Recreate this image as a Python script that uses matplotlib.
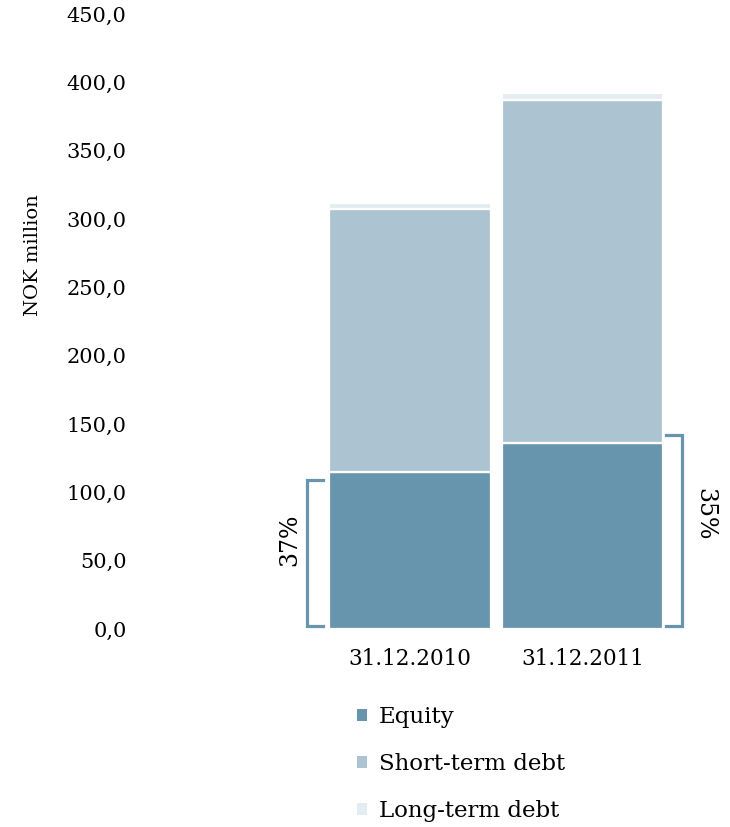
import matplotlib
matplotlib.use("Agg")
import matplotlib.pyplot as plt
from matplotlib.patches import Patch

plt.rcParams.update({'font.family': 'DejaVu Serif', 'font.size': 15})

# Balance sheet composition, NOK million
dates = ['31.12.2010', '31.12.2011']
equity = [115.0, 136.0]
short_term_debt = [192.0, 251.0]
long_term_debt = [5.0, 5.0]
equity_share = ['37%', '35%']
y_ticks = [0, 50, 100, 150, 200, 250, 300, 350, 400, 450]
series_names = ['Equity', 'Short-term debt', 'Long-term debt']

c_equity = '#6895ae'
c_short = '#acc3d1'
c_long = '#e3ecf0'

fig = plt.figure(figsize=(7.3, 8.27), dpi=100)
ax = fig.add_axes([135 / 730, 198 / 827, 565 / 730, 615 / 827])

x = list(range(len(dates)))
bar_kw = dict(width=0.935, edgecolor='white', linewidth=1.6)
ax.bar(x, equity, color=c_equity, **bar_kw)
ax.bar(x, short_term_debt, bottom=equity, color=c_short, **bar_kw)
bottom2 = [e + s for e, s in zip(equity, short_term_debt)]
ax.bar(x, long_term_debt, bottom=bottom2, color=c_long, **bar_kw)

ax.set_xlim(-1.59, 1.68)
ax.set_ylim(0, 450)
ax.set_yticks(y_ticks)
ax.set_yticklabels([f'{v:.1f}'.replace('.', ',') for v in y_ticks])
ax.set_xticks(x)
ax.set_xticklabels(dates)
ax.tick_params(length=0, labelsize=15, pad=6)
ax.tick_params(axis='x', labelsize=15.5, pad=14)
for s in ax.spines.values():
    s.set_visible(False)

# y axis label sits high, next to the tick column
fig.text(33 / 730, 1 - 255 / 827, 'NOK million', rotation=90,
         ha='center', va='center', fontsize=14)

# brackets showing equity share of total
bw = 0.095
offsets = [-6, 6]
for i, (eq, share) in enumerate(zip(equity, equity_share)):
    top = eq + offsets[i]
    if i == 0:
        xb = i - 0.596
        xs = [xb + bw, xb, xb, xb + bw]
        ax.plot(xs, [top, top, 2, 2], color=c_equity, lw=2.3,
                solid_joinstyle='miter', clip_on=False)
        ax.text(xb - 0.1, (top + 2) / 2 + 10, share, rotation=90,
                ha='center', va='center', fontsize=17)
    else:
        xb = i + 0.578
        xs = [xb - bw, xb, xb, xb - bw]
        ax.plot(xs, [top, top, 2, 2], color=c_equity, lw=2.3,
                solid_joinstyle='miter', clip_on=False)
        ax.text(xb + 0.13, (top + 2) / 2 + 12, share, rotation=-90,
                ha='center', va='center', fontsize=17)

handles = [Patch(facecolor=c, edgecolor='none') for c in (c_equity, c_short, c_long)]
fig.legend(handles=handles, labels=series_names, loc='upper left',
           bbox_to_anchor=(357 / 730, 1 - 706 / 827), frameon=False,
           fontsize=16.5, handlelength=0.45, handleheight=0.45,
           handletextpad=0.5, labelspacing=1.1, borderpad=0,
           borderaxespad=0)

fig.savefig('out.png', dpi=100)
